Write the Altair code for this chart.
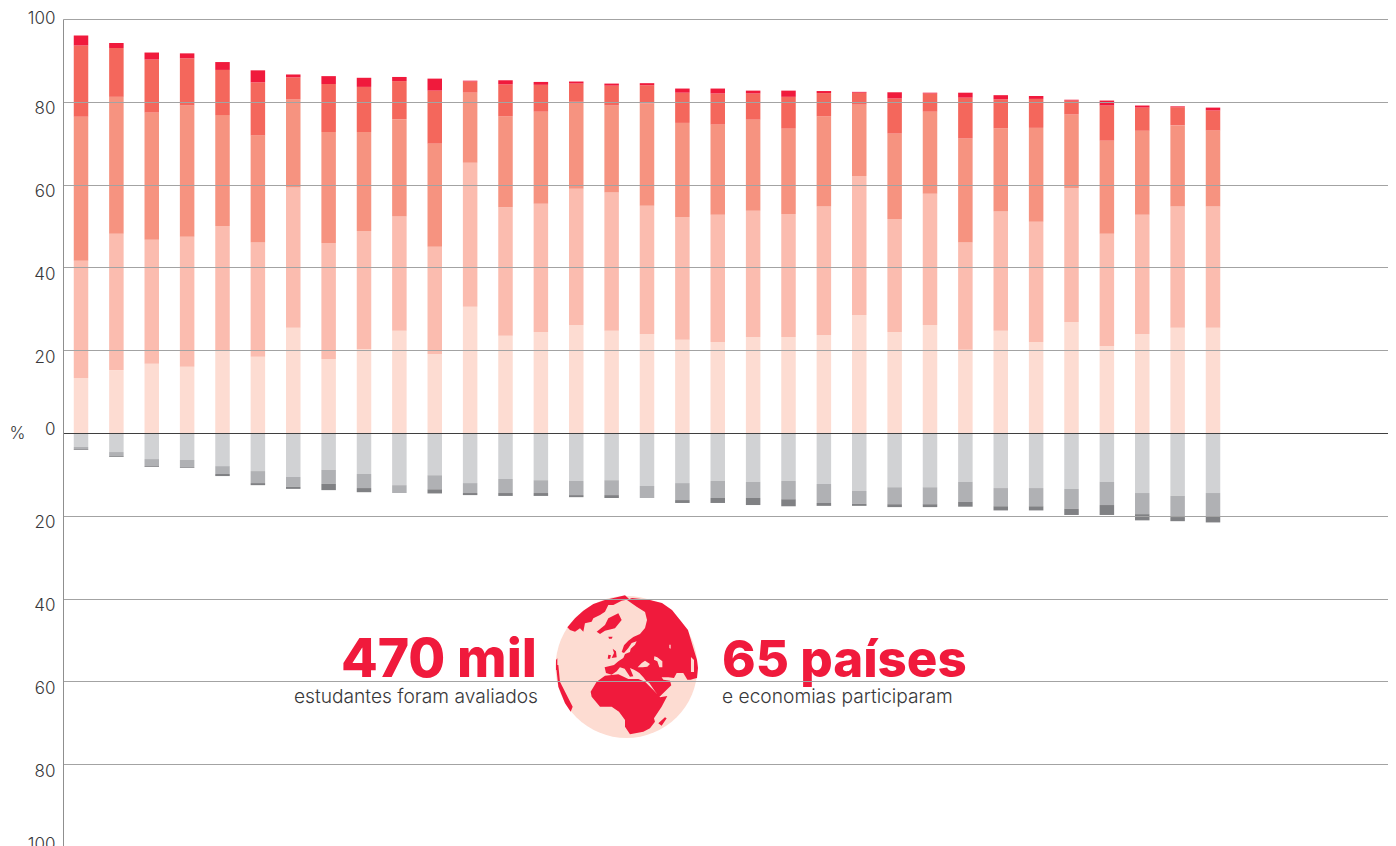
import altair as alt
import pandas as pd

# Percent of students per proficiency band, one entry per country/economy (33 bars)
rank = list(range(1, 34))
nivel_2 = [13.3,15.2,16.7,16.0,19.8,18.4,25.4,17.9,20.3,24.7,19.1,30.5,23.5,24.4,26.1,24.7,23.9,22.5,22.0,23.2,23.2,23.7,28.5,24.4,26.1,20.1,24.7,22.0,26.8,21.0,23.9,25.4,25.4]
nivel_3 = [28.3,32.9,30.0,31.4,30.2,27.6,33.9,28.0,28.5,27.6,25.9,34.8,31.0,31.0,32.9,33.4,31.0,29.7,30.7,30.5,29.7,31.0,33.6,27.3,31.7,25.9,28.8,29.0,32.4,27.1,28.8,29.3,29.3]
nivel_4 = [34.8,33.1,30.7,31.7,26.8,25.9,21.3,26.8,23.9,23.5,24.9,16.9,22.0,22.2,21.0,21.0,24.7,22.7,21.8,22.0,20.6,21.8,17.2,20.6,19.8,25.1,20.1,22.7,17.7,22.5,20.3,19.6,18.4]
nivel_5 = [17.2,11.8,12.8,11.4,10.9,12.8,5.3,11.6,10.9,9.2,12.8,2.7,7.7,6.5,4.4,4.8,4.4,7.3,7.5,6.3,7.7,5.6,2.9,8.5,4.4,9.9,7.0,7.0,3.4,8.5,5.6,4.4,4.8]
nivel_6 = [2.4,1.2,1.7,1.2,1.9,2.9,0.7,1.9,2.2,1.0,2.9,0.2,1.0,0.7,0.5,0.5,0.5,1.0,1.2,0.7,1.5,0.5,0.2,1.5,0.2,1.2,1.0,0.7,0.2,1.2,0.5,0.2,0.7]
nivel_1a = [3.4,4.6,6.3,6.5,8.0,9.2,10.6,8.9,9.9,12.6,10.2,12.1,11.1,11.4,11.6,11.4,12.8,12.1,11.6,11.8,11.6,12.3,14.0,13.1,13.1,11.8,13.3,13.3,13.5,11.8,14.5,15.2,14.5]
nivel_1b = [0.5,1.0,1.7,1.7,1.9,2.9,2.4,3.4,3.4,1.9,3.4,2.4,3.4,3.1,3.4,3.6,2.9,4.1,4.1,3.9,4.4,4.6,3.1,4.1,4.1,4.8,4.4,4.4,4.8,5.6,5.1,5.1,5.6]
abaixo_1b = [0.2,0.2,0.2,0.2,0.5,0.5,0.5,1.5,1.0,0.0,1.0,0.5,0.7,0.7,0.5,0.7,0.0,0.7,1.2,1.7,1.7,0.7,0.5,0.7,0.7,1.2,1.0,1.0,1.5,2.4,1.5,1.0,1.5]

series = [
    ("Nível 2", nivel_2, 1, "#FDDCD2"),
    ("Nível 3", nivel_3, 1, "#FBBCAF"),
    ("Nível 4", nivel_4, 1, "#F69380"),
    ("Nível 5", nivel_5, 1, "#F4675C"),
    ("Nível 6", nivel_6, 1, "#F01A3C"),
    ("Nível 1a", nivel_1a, -1, "#D1D2D4"),
    ("Nível 1b", nivel_1b, -1, "#B0B1B4"),
    ("Abaixo de 1b", abaixo_1b, -1, "#808184"),
]
names = [s[0] for s in series]
colors = [s[3] for s in series]

rows = []
for order, (name, vals, sign, _) in enumerate(series):
    for r, v in zip(rank, vals):
        rows.append({"rank": r, "nivel": name, "pct": sign * v, "ordem": order})
bars_df = pd.DataFrame(rows)

# Scales
X_DOMAIN = [0.491, 37.947]
x_scale = alt.Scale(domain=X_DOMAIN, nice=False, zero=False, padding=0)
y_scale = alt.Scale(domain=[-100, 100], nice=False, padding=0)

TICK_FONT = "Inter"
INK = "#38383a"
y_axis = alt.Axis(
    values=list(range(-100, 101, 20)),
    labelExpr="abs(datum.value)",
    labelOffset=alt.expr("datum.value == 100 ? -0.5 : datum.value == 0 ? -4 : datum.value == -100 ? -3 : 7"),
    labelFont=TICK_FONT, labelFontSize=17, labelFontWeight=300, labelColor=INK, labelPadding=8,
    tickSize=0, domainColor="#8f8f8f", domainWidth=1,
    gridColor=alt.expr("datum.value == 0 ? '#3f3f3f' : '#a3a3a3'"), gridWidth=1, gridOpacity=1,
    title="%", titleAngle=0, titleFont=TICK_FONT, titleFontSize=17, titleFontWeight=300,
    titleColor=INK, titleX=-46, titleY=414, titleAlign="center", titleBaseline="middle",
    zindex=1,
)

bars = alt.Chart(bars_df).mark_bar(width=14.5).encode(
    x=alt.X("rank:Q", scale=x_scale, axis=None),
    y=alt.Y("pct:Q", scale=y_scale, axis=y_axis, stack="zero"),
    color=alt.Color("nivel:N", scale=alt.Scale(domain=names, range=colors), legend=None),
    order=alt.Order("ordem:Q"),
)

# Globe glyph (centre and radius convert outline points to a unit symbol)
CX, CY, R = 626.5, 667.0, 71.0

def symbol_path(polys):
    out = []
    for pts in polys:
        norm = [((x - CX) / R, (y - CY) / R) for x, y in pts]
        out.append("M" + " L".join(f"{x:.3f} {y:.3f}" for x, y in norm) + " Z")
    return " ".join(out)

def z(off_x, off_y, pts):
    return [(off_x + a / 3, off_y + b / 3) for a, b in pts]

def e(pts):
    return z(600, 628, pts)

arctic = z(550, 590, [(52,112),(75,85),(100,62),(130,42),(165,30),(200,22),(225,16),(238,28),(215,32),(190,45),(175,45),(165,65),(150,75),(130,85),(125,95),(105,100),(100,125),(90,115),(75,125),(60,120)])
greenland = z(550, 590, [(140,125),(165,105),(175,85),(205,70),(215,90),(195,115),(165,122),(150,132)])
iceland = z(550, 590, [(175,140),(188,140),(185,146),(177,146)])
britain = e([(38,62),(48,70),(50,88),(35,90),(42,75)])
ireland = e([(25,80),(33,82),(30,92),(23,92)])
eurasia = (
    [(627,600),(632,598),(650,600),(662,603),(672,610),(680,620),(688,630),(693,647),(697,660),(698,668),(697,678),(693,679)]
    + e([(272,155),(262,155),(250,135),(230,135),(222,150),(205,148),(185,148),(190,155),(210,158),(214,172),(178,207),(165,190),(148,165),(138,158),(130,148),(118,135),(110,130),(102,125),(90,120),(100,145),(90,146),(74,122),(60,118),(50,130),(35,140),(18,135),(14,118),(42,111),(55,100),(70,90),(75,78),(90,72),(92,62),(105,50),(110,40),(95,45),(85,60),(72,75),(65,72),(72,52),(85,38),(100,27),(120,18),(135,0)])
    + [(647,620),(645,612),(637,607)]
)
africa = z(550, 665, [(165,32),(205,28),(235,42),(265,42),(285,50),(310,75),(330,97),(352,93),(335,125),(312,160),(315,170),(300,190),(280,200),(240,208),(225,185),(225,165),(207,140),(185,125),(150,125),(125,95),(122,80),(140,50)])
madagascar = z(550, 665, [(325,175),(345,157),(350,160),(335,182)])
s_america = z(550, 665, [(18,0),(25,0),(30,50),(68,125),(62,140),(45,115),(25,65)])
n_america = z(550, 590, [(18,240),(18,210),(22,205),(22,240)])
land = symbol_path([arctic, greenland, iceland, britain, ireland, eurasia, africa, madagascar, s_america, n_america])

black_sea = e([(113,118),(125,105),(135,98),(150,108),(142,116),(128,118)])
caspian = e([(163,85),(172,88),(187,100),(187,118),(178,118),(172,100),(162,95)])
baikal = e([(208,50),(212,50),(212,62),(208,60)])
bengal = [(691,657),(694,660),(694,672),(691,672)]
seas = symbol_path([black_sea, caspian, baikal, bengal])

def to_x(px):
    return X_DOMAIN[0] + (px - 63) / 35.375

def to_y(px):
    return (433 - px) / 4.14

globe_df = pd.DataFrame({"x": [to_x(CX)], "y": [to_y(CY)]})
def globe_layer(shape, fill):
    return alt.Chart(globe_df).mark_point(
        shape=shape, size=(2 * R) ** 2, filled=True, fill=fill, opacity=1, strokeWidth=0
    ).encode(x=alt.X("x:Q", scale=x_scale, axis=None), y=alt.Y("y:Q", scale=y_scale, axis=y_axis))

globe = globe_layer("circle", "#FDDCD2") + globe_layer(land, "#F01A3C") + globe_layer(seas, "#FDDCD2")

def text_layer(txt, px, py, align, font, size, weight, color):
    df = pd.DataFrame({"x": [to_x(px)], "y": [to_y(py)], "t": [txt]})
    return alt.Chart(df).mark_text(
        align=align, baseline="alphabetic", font=font, fontSize=size, fontWeight=weight, color=color
    ).encode(x=alt.X("x:Q", scale=x_scale, axis=None), y=alt.Y("y:Q", scale=y_scale, axis=y_axis), text="t:N")

texts = (
    text_layer("470 mil", 537, 677, "right", "Inter", 53.5, 800, "#F01A3C")
    + text_layer("65 países", 722, 677, "left", "Inter", 51, 800, "#F01A3C")
    + text_layer("estudantes foram avaliados", 538, 703, "right", "Inter", 19.2, 300, INK)
    + text_layer("e economias participaram", 722, 703, "left", "Inter", 19.2, 300, INK)
)

chart = (bars + globe + texts).properties(
    width=1325,
    height=828,
    padding={"left": 55, "top": 11, "right": 0, "bottom": 0},
    autosize=alt.AutoSizeParams(type="none"),
    background="white",
).configure_view(stroke=None)

chart.save("out.html", embed_options={"renderer": "svg", "actions": False})
